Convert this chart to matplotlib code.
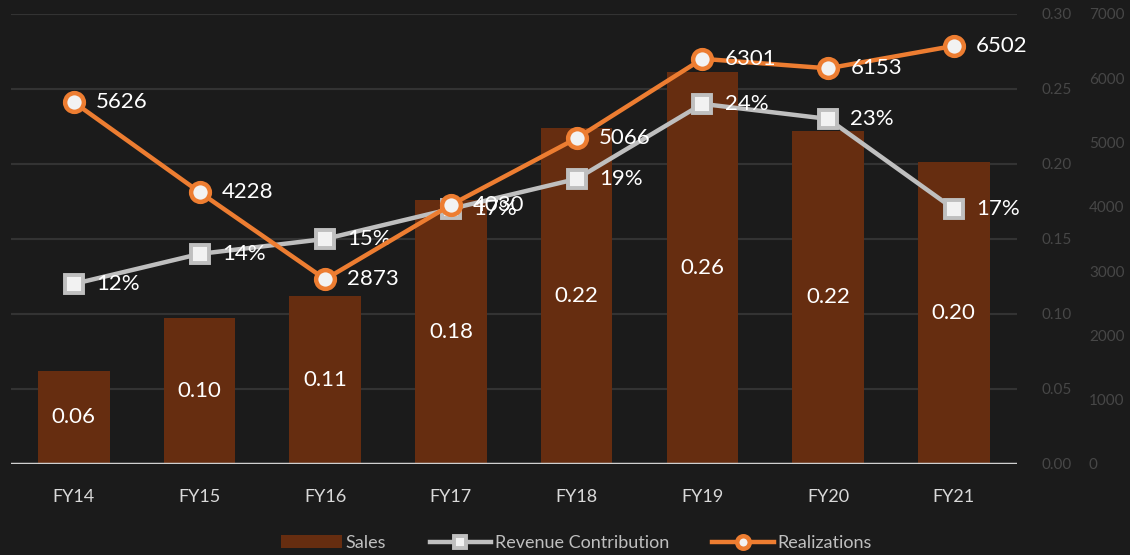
import numpy as np
import matplotlib.pyplot as plt
from matplotlib.ticker import FuncFormatter

plt.rcParams['font.family'] = ['Lato', 'DejaVu Sans']

# data
years = ['FY14', 'FY15', 'FY16', 'FY17', 'FY18', 'FY19', 'FY20', 'FY21']
sales = [0.062, 0.097, 0.112, 0.176, 0.224, 0.261, 0.222, 0.201]
revenue_contribution = [0.12, 0.14, 0.15, 0.17, 0.19, 0.24, 0.23, 0.17]
realizations = [5626, 4228, 2873, 4030, 5066, 6301, 6153, 6502]

bg = '#1b1b1b'
bar_color = '#662d10'
orange = '#ed7d31'
grey = '#bfbfbf'

fig = plt.figure(figsize=(11.3, 5.55), dpi=100, facecolor=bg)
ax = fig.add_axes([0.0097, 0.164, 0.89, 0.811])
ax.set_facecolor(bg)
x = np.arange(len(years))

# realizations axis (twin) - make it first so tick_right on ax sticks
ax2 = ax.twinx()

# grid
ax.set_ylim(0, 0.30)
ax.set_xlim(-0.5, len(years) - 0.5)
ax.set_yticks(np.arange(0, 0.31, 0.05))
ax.yaxis.grid(True, color='#333333', linewidth=1.5)
ax.set_axisbelow(True)
for s in ax.spines.values():
    s.set_visible(False)
ax.axhline(0, color='#d0d0d0', linewidth=2.5, zorder=3)

bars = ax.bar(x, sales, width=0.57, color=bar_color, zorder=2, label='Sales')
for xi, v in zip(x, sales):
    ax.text(xi, v / 2, '%.2f' % v, ha='center', va='center', color='white',
            fontsize=16, zorder=6)

ax.yaxis.tick_right()
ax.tick_params(axis='y', length=0, pad=18, labelsize=11, labelcolor='#474747')
ax.yaxis.set_major_formatter(FuncFormatter(lambda v, p: '%.2f' % v))
ax.set_xticks(x)
ax.set_xticklabels(years)
ax.tick_params(axis='x', length=0, pad=18, labelsize=13, labelcolor='#d9d9d9')

# revenue contribution on sales scale
rc_line, = ax.plot(x, revenue_contribution, color=grey, linewidth=3.2, marker='s',
                   markersize=12.5, markerfacecolor='#f2f2f2', markeredgecolor=grey,
                   markeredgewidth=2.8, zorder=4, label='Revenue Contribution')
for xi, v in zip(x, revenue_contribution):
    ax.annotate('%d%%' % round(v * 100), (xi, v), xytext=(16, 0),
                textcoords='offset points', ha='left', va='center',
                color='white', fontsize=16, zorder=6)

ax2.set_ylim(0, 7000)
ax2.set_yticks(np.arange(0, 7001, 1000))
for s in ax2.spines.values():
    s.set_visible(False)
ax2.tick_params(axis='y', length=0, pad=52, labelsize=11, labelcolor='#474747')
real_line, = ax2.plot(x, realizations, color=orange, linewidth=3.2, marker='o',
                      markersize=13.5, markerfacecolor='#f2f2f2', markeredgecolor=orange,
                      markeredgewidth=3.2, zorder=5, label='Realizations')
for xi, v in zip(x, realizations):
    ax2.annotate(str(v), (xi, v), xytext=(16, 0), textcoords='offset points',
                 ha='left', va='center', color='white', fontsize=16, zorder=6)

leg = fig.legend(handles=[bars, rc_line, real_line], loc='lower center',
                 bbox_to_anchor=(0.51, -0.022), ncol=3, frameon=False,
                 fontsize=13, labelcolor='#bfbfbf', handlelength=3.4,
                 handletextpad=0.2, columnspacing=2.4)
for h in leg.legend_handles[1:]:
    h.set_markersize(9)

fig.savefig('out.png', dpi=100, facecolor=bg)
